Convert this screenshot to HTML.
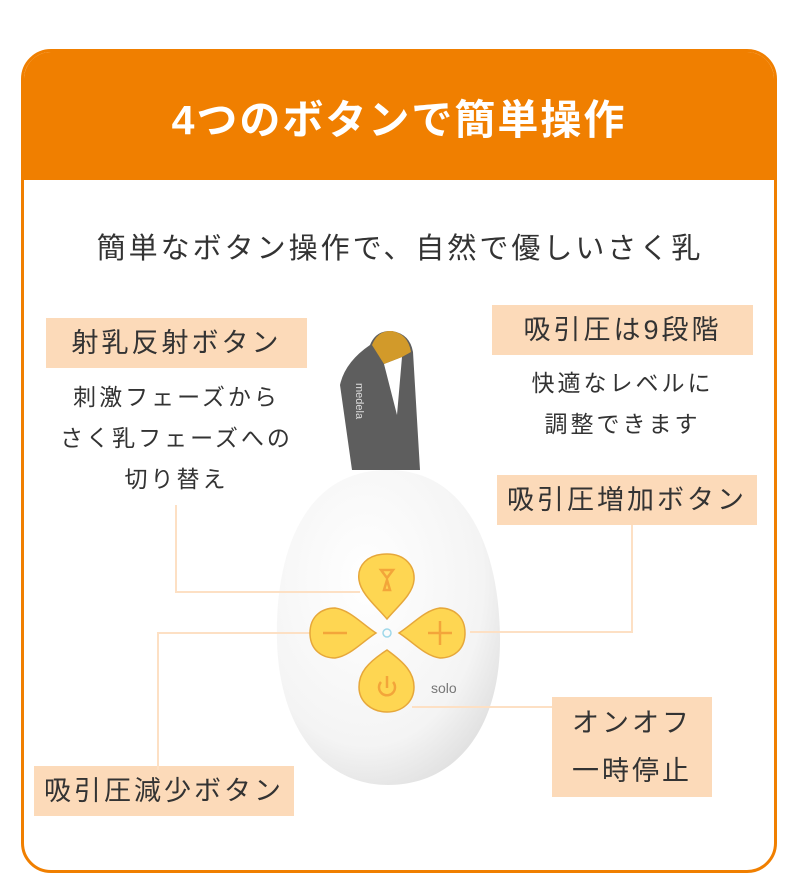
<!DOCTYPE html>
<html><head><meta charset="utf-8"><style>
*{margin:0;padding:0;box-sizing:border-box}
body{width:800px;height:890px;background:#fff;position:relative;font-family:"Liberation Sans","Noto Sans CJK JP",sans-serif;color:#333;overflow:hidden}
.frame{position:absolute;left:21px;top:49px;width:756px;height:824px;border:3px solid #f07f00;border-radius:30px;overflow:hidden}
.head{position:absolute;left:0;top:0;right:0;height:128px;background:#f07f00;color:#fff;font-size:41px;font-weight:bold;text-align:center;line-height:136px;letter-spacing:2px}
.t{position:absolute;white-space:nowrap;text-align:center}
.lbl{position:absolute;background:#fcdab9;font-size:27px;color:#333;text-align:center;letter-spacing:3px}
</style></head><body>
<div class="frame"><div class="head">4つのボタンで簡単操作</div></div>
<div class="t" style="left:0;width:800px;top:225px;font-size:29px;letter-spacing:3px">簡単なボタン操作で、自然で優しいさく乳</div>

<div class="lbl" style="left:46px;top:318px;width:261px;height:50px;line-height:50px">射乳反射ボタン</div>
<div class="t" style="left:46px;width:261px;top:377px;font-size:23px;line-height:41px;letter-spacing:3px">刺激フェーズから<br>さく乳フェーズへの<br>切り替え</div>
<div class="lbl" style="left:492px;top:305px;width:261px;height:50px;line-height:50px">吸引圧は9段階</div>
<div class="t" style="left:492px;width:261px;top:363px;font-size:23px;line-height:41px;letter-spacing:3px">快適なレベルに<br>調整できます</div>
<div class="lbl" style="left:497px;top:475px;width:260px;height:50px;line-height:50px">吸引圧増加ボタン</div>
<div class="lbl" style="left:34px;top:766px;width:260px;height:50px;line-height:50px">吸引圧減少ボタン</div>
<div class="lbl" style="left:552px;top:697px;width:160px;height:100px;line-height:48px;padding-top:2px">オンオフ<br>一時停止</div>

<svg style="position:absolute;left:0;top:0" width="800" height="890">
<defs><radialGradient id="g" cx="0.4" cy="0.35" r="0.75"><stop offset="0" stop-color="#fff"/><stop offset="0.7" stop-color="#f4f4f4"/><stop offset="1" stop-color="#dcdcdc"/></radialGradient></defs>
<path fill-rule="evenodd" fill="#5e5e5e" d="M352,470 L340,385 Q345,362 370,345 Q376,330 392,331 Q410,334 413,352 L420,470 Z M384,364 L402,357 L397,415 Z"/>
<path d="M372,345 Q378,330 392,331 Q408,334 411,352 L402,357 L384,364 Z" fill="#d29a2a"/>
<text x="356" y="383" font-size="11" fill="#ddd" transform="rotate(90 356 383)" font-family="Liberation Sans">medela</text>
<path d="M388,470 C300,470 275,560 277,640 C279,730 325,785 388,785 C455,785 500,730 500,640 C500,555 470,470 388,470 Z" fill="url(#g)"/>
<g stroke="#fde0c4" stroke-width="2" fill="none">
<polyline points="176,505 176,592 360,592"/>
<polyline points="158,770 158,633 310,633"/>
<polyline points="470,632 632,632 632,525"/>
<polyline points="412,707 552,707"/>
</g>
<g fill="#fed652" stroke="#e6a73a" stroke-width="1.5">
<path d="M387,554 C367,554 357,566 359,580 C361,594 376,606 387,619 C398,606 413,594 414,580 C415,566 405,554 387,554Z"/>
<path d="M387,650 C367,663 359,673 359,687 C359,702 372,712 387,712 C402,712 414,702 414,687 C414,673 405,663 387,650Z"/>
<path d="M310,633 C310,616 322,608 335,608 C350,610 362,624 376,633 C362,642 350,656 335,658 C322,658 310,650 310,633Z"/>
<path d="M465,633 C465,616 453,608 440,608 C425,610 413,624 399,633 C413,642 425,656 440,658 C453,658 465,650 465,633Z"/>
</g>
<g stroke="#f3a53a" stroke-width="2.5" fill="none">
<line x1="323" y1="633" x2="347" y2="633"/><line x1="428" y1="633" x2="452" y2="633"/><line x1="440" y1="621" x2="440" y2="645"/>
<path d="M381,682 A8,8 0 1 0 393,682"/><line x1="387" y1="676" x2="387" y2="688"/>
<path d="M381,570 L393,570 L387,578Z M387,580 L384,590 L390,590Z"/>
</g>
<circle cx="387" cy="633" r="4" fill="none" stroke="#9fd8ea" stroke-width="1.5"/>
<text x="431" y="693" font-size="14" fill="#777" font-family="Liberation Sans">solo</text>
</svg>
</body></html>
